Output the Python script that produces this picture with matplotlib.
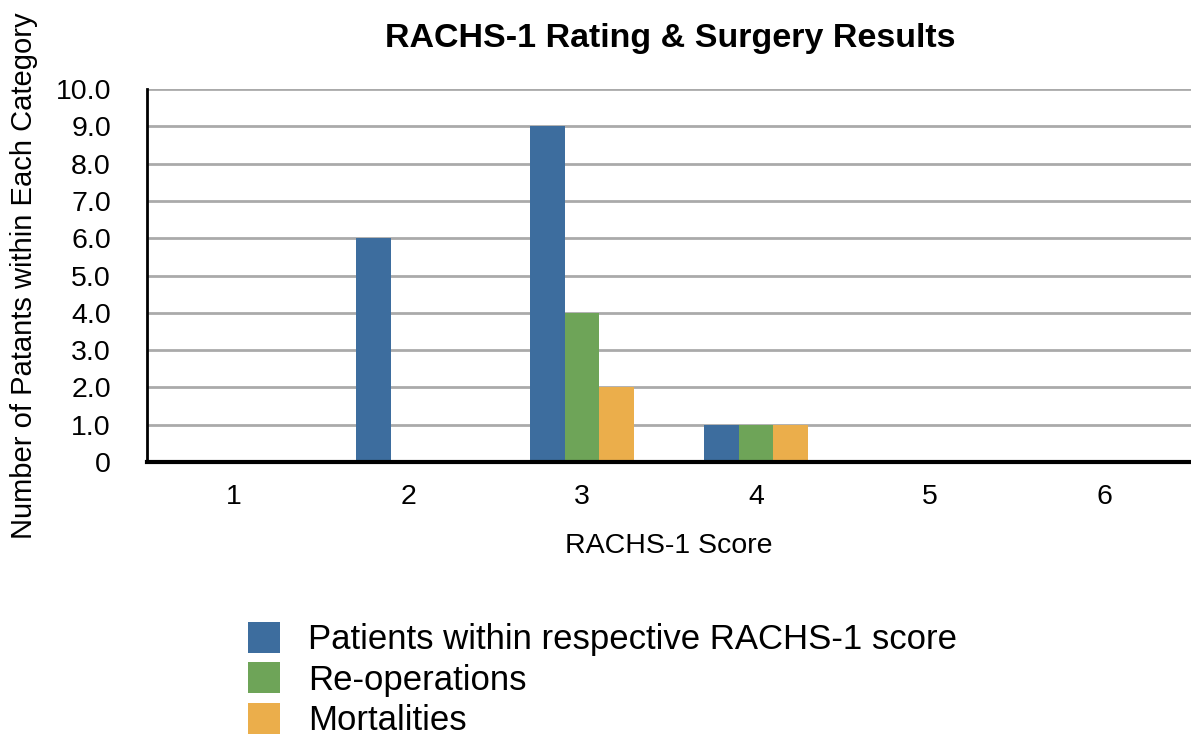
import numpy as np
import matplotlib
matplotlib.use("Agg")
import matplotlib.pyplot as plt

plt.rcParams['font.family'] = ['Liberation Sans', 'DejaVu Sans']

# data
scores = ["1", "2", "3", "4", "5", "6"]
patients = [0, 6, 9, 1, 0, 0]
reoperations = [0, 0, 4, 1, 0, 0]
mortalities = [0, 0, 2, 1, 0, 0]
y_ticks = [0, 1, 2, 3, 4, 5, 6, 7, 8, 9, 10]
y_tick_labels = ["0"] + ["%.1f" % v for v in y_ticks[1:]]

series = [
    ("Patients within respective RACHS-1 score", patients, "#3d6d9e"),
    ("Re-operations", reoperations, "#6ea458"),
    ("Mortalities", mortalities, "#ebae4b"),
]

W, H = 1191, 738
fig = plt.figure(figsize=(W / 100, H / 100), dpi=100)
ax = fig.add_axes([147 / W, 1 - 462 / H, 1 - 147 / W, (462 - 89) / H])

x = np.arange(1, len(scores) + 1)
w = 0.2
for i, (name, vals, col) in enumerate(series):
    ax.bar(x + (i - 1) * w, vals, width=w, color=col, label=name, zorder=3)

ax.set_xlim(0.5, 6.5)
ax.set_ylim(0, 10)
ax.set_yticks(y_ticks)
ax.set_yticklabels(y_tick_labels)
ax.set_xticks(x)
ax.set_xticklabels(scores)
ax.tick_params(axis='both', length=0, labelsize=20.5)
ax.tick_params(axis='y', pad=26)
ax.tick_params(axis='x', pad=16)
ax.grid(axis='y', color='#aaaaaa', linewidth=2, zorder=0)

for s in ['top', 'right']:
    ax.spines[s].set_visible(False)
ax.spines['left'].set_linewidth(2)
ax.spines['bottom'].set_linewidth(3)
ax.spines['bottom'].set_zorder(4)

fig.text(670 / W, 1 - 39 / H, "RACHS-1 Rating & Surgery Results", fontsize=24.5,
         fontweight='bold', ha='center', va='center')
ax.set_xlabel("RACHS-1 Score", fontsize=20.5)
ax.xaxis.set_label_coords(0.5, -(533 - 462) / 373)
ax.set_ylabel("Number of Patants within Each Category", fontsize=21)
ax.yaxis.set_label_coords(-(147 - 38) / (W - 147), 0.5)

fig.legend(loc='upper left', bbox_to_anchor=(248 / W, 1 - 622 / H), frameon=False,
           fontsize=25, handlelength=0.92, handleheight=1.0, handletextpad=0.8,
           labelspacing=0.17, borderpad=0, borderaxespad=0)

fig.savefig("out.png", dpi=100)
